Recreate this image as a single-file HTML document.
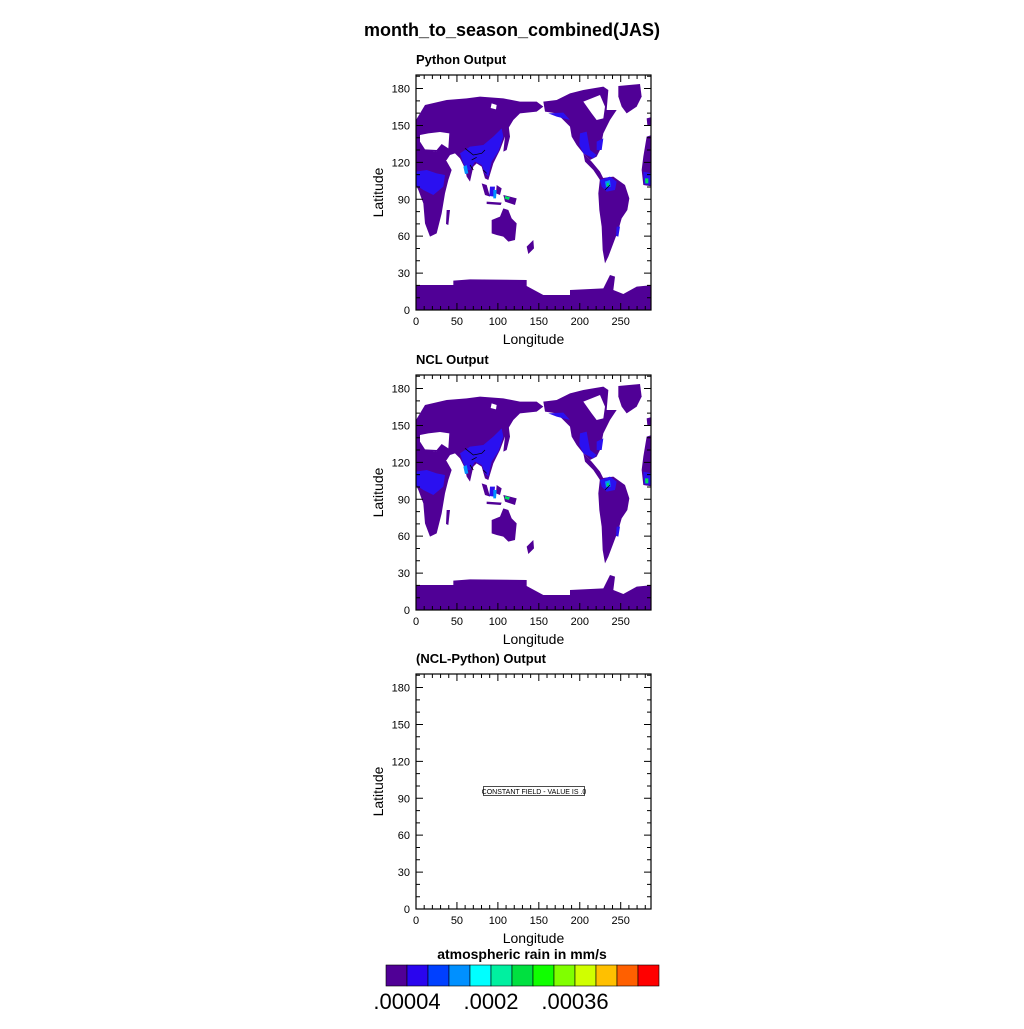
<!DOCTYPE html>
<html><head><meta charset="utf-8"><style>
body{margin:0;background:#fff;width:1024px;height:1024px;overflow:hidden;font-family:"Liberation Sans",sans-serif}
svg text{font-family:"Liberation Sans",sans-serif}
</style></head><body>
<svg id="fig" width="1024" height="1024" viewBox="0 0 1024 1024" xmlns="http://www.w3.org/2000/svg">
<defs>
<clipPath id="pc"><rect x="0" y="0" width="235" height="235"/></clipPath>
<g id="mapshapes">
 <g transform="translate(-46,-5) scale(0.33333)">
  <g fill="#500096">
   <path d="M138,645 L250,645 L250,632 L300,628 L470,630 L470,648 L520,675 L600,675 L600,660 L700,655 L720,615 L735,620 L730,660 L760,672 L800,650 L850,645 L850,725 L130,725 Z"/>
   <path d="M138,150 L165,105 L230,90 L290,85 L330,80 L400,85 L450,95 L500,95 L520,110 L500,125 L450,130 L430,150 L415,175 L405,200 L390,240 L380,260 L370,280 L355,330 L345,325 L335,290 L320,280 L310,290 L300,335 L290,320 L285,295 L270,265 L255,250 L240,255 L230,270 L215,275 L205,268 L200,245 L138,238 Z"/>
   <path d="M138,235 L200,245 L225,265 L245,300 L235,330 L225,370 L215,430 L200,490 L180,500 L165,460 L160,400 L145,360 L138,345 Z"/>
   <path d="M365,450 L390,440 L400,415 L415,420 L425,445 L440,460 L435,510 L415,515 L400,500 L380,495 L365,490 Z"/>
   <path d="M520,95 L560,90 L600,70 L640,60 L700,50 L715,60 L710,120 L740,120 L720,150 L700,190 L690,240 L680,260 L660,270 L640,250 L620,225 L605,200 L600,170 L580,150 L560,130 L525,125 Z"/>
   <path d="M745,48 L810,42 L815,80 L800,110 L770,130 L755,110 L745,80 Z"/>
   <path d="M640,250 L665,275 L690,305 L700,325 L690,330 L670,300 L645,275 Z"/>
   <path d="M690,325 L730,320 L765,345 L778,385 L772,420 L755,445 L745,480 L730,520 L715,560 L705,580 L698,540 L695,470 L688,420 L685,370 Z"/>
   <path d="M830,200 L845,195 L850,195 L850,350 L820,345 L815,300 L820,260 Z"/>
   <path d="M830,145 L850,140 L850,165 L832,165 Z"/>
   <path d="M400,165 L415,160 L420,200 L410,240 L400,245 L405,200 Z"/>
   <path d="M335,340 L350,345 L360,380 L345,375 Z M380,345 L395,355 L390,375 L378,370 Z M400,375 L440,385 L435,405 L405,395 Z M350,395 L395,398 L392,405 L350,402 Z M470,530 L490,510 L492,535 L475,552 Z M230,420 L240,420 L235,465 L228,462 Z"/>
  </g>
  <g fill="#fff">
   <path d="M150,195 L175,190 L210,186 L238,190 L235,235 L215,222 L200,240 L165,238 L150,215 Z"/>
   <path d="M365,100 L380,105 L378,118 L362,114 Z M640,95 L690,75 L705,110 L700,145 L680,150 L665,130 Z"/>
  </g>
  <g fill="#2a10f0">
   <path d="M138,305 L170,300 L200,310 L225,315 L220,350 L190,375 L160,360 L138,345 Z"/>
   <path d="M270,250 L300,230 L340,225 L370,200 L395,175 L400,200 L385,245 L365,275 L355,320 L345,310 L335,285 L315,275 L300,300 L290,300 L280,280 Z"/>
   <path d="M690,330 L720,320 L740,335 L735,360 L710,365 L695,350 Z"/>
   <path d="M820,305 L845,310 L845,345 L822,342 Z"/>
   <path d="M630,190 L650,185 L660,240 L680,255 L670,265 L640,250 L628,225 Z"/>
   <path d="M535,130 L580,128 L600,150 L560,140 Z M680,215 L700,205 L695,240 L680,240 Z M360,350 L375,350 L372,380 L358,378 Z M740,470 L750,470 L745,500 L738,498 Z"/>
  </g>
  <g fill="#0090ff">
   <path d="M280,290 L290,285 L295,310 L285,312 Z M370,360 L380,360 L378,385 L370,385 Z M705,335 L720,330 L722,350 L708,352 Z"/>
  </g>
  <g fill="#00e060">
   <path d="M405,378 L420,382 L416,390 L404,386 Z M710,340 L716,338 L716,348 L710,348 Z M825,325 L835,325 L835,340 L826,340 Z"/>
  </g>
  <g fill="none" stroke="#000" stroke-width="2.2">
   <path d="M285,235 L310,255 L335,250 L345,240 M305,270 L320,262 M300,285 L310,300 M705,360 L720,345 M340,300 L350,310"/>
  </g>
 </g>
</g>
</defs>
<text x="512" y="36" font-size="18" font-weight="bold" text-anchor="middle">month_to_season_combined(JAS)</text>
<g id="panels"></g>
<text x="522" y="959" font-size="14" font-weight="bold" text-anchor="middle">atmospheric rain in mm/s</text>
<g id="cbar"></g>
</svg>
<script>
const xTicks=[0,50,100,150,200,250];
const yTicks=[0,30,60,90,120,150,180];
const xMax=287, yMax=191;
const panelTitles=["Python Output","NCL Output","(NCL-Python) Output"];
const panelTops=[75,375,674];
const cbColors=["#500096","#2a05ee","#0040ff","#0090ff","#00ffff","#00f0a0","#00e040","#10ff00","#80ff00","#d0ff00","#ffc000","#ff6000","#ff0000"];
const cbLevels=[0.00004,0.00008,0.00012,0.00016,0.0002,0.00024,0.00028,0.00032,0.00036,0.0004,0.00044,0.00048];
const cbLabels=[".00004",".0002",".00036"];
const cbLabelLevels=[0.00004,0.0002,0.00036];
const NS="http://www.w3.org/2000/svg";
function mk(t,a,p){const e=document.createElementNS(NS,t);for(const k in a)e.setAttribute(k,a[k]);if(p)p.appendChild(e);return e;}
const L=416,W=235,H=235;
const panels=document.getElementById('panels');
panelTops.forEach((T,i)=>{
 const g=mk('g',{transform:`translate(${L},${T})`},panels);
 
 
 const sx=v=>v/xMax*W, sy=v=>H-v/yMax*H;
 if(i<2){const m=mk('g',{'clip-path':'url(#pc)'},g);
  
  
  mk('use',{href:'#mapshapes'},m);}
 else{
  const b=mk('rect',{x:67.5,y:112.5,width:101,height:9,fill:'#fff',stroke:'#000','stroke-width':0.7},g);
  
  
  const t=mk('text',{x:118,y:120,'font-size':7,'text-anchor':'middle'},g);t.textContent='CONSTANT FIELD - VALUE IS .0';
  
  
 }
 const fr=mk('rect',{x:0,y:0,width:W,height:H,fill:'none',stroke:'#000','stroke-width':1.2},g);
 
 
 let d='';
 for(let v=0;v<=xMax;v+=10){const x=sx(v),len=v%50==0?7:4;d+=`M${x},${H}v${-len}M${x},0v${len}`;}
 for(let v=0;v<=yMax;v+=10){const y=sy(v),len=v%30==0?7:4;d+=`M0,${y}h${len}M${W},${y}h${-len}`;}
 const tk=mk('path',{d:d,stroke:'#000','stroke-width':1,fill:'none'},g);
 
 
 xTicks.forEach(v=>{const t=mk('text',{x:sx(v),y:H+15,'font-size':11,'text-anchor':'middle'},g);t.textContent=v;
  
  });
 yTicks.forEach(v=>{const t=mk('text',{x:-6,y:sy(v)+4,'font-size':11,'text-anchor':'end'},g);t.textContent=v;
  
  });
 const xl=mk('text',{x:W/2,y:H+34,'font-size':14,'text-anchor':'middle'},g);xl.textContent='Longitude';
 
 
 const yl=mk('text',{x:0,y:0,'font-size':14,'text-anchor':'middle',transform:`translate(-33,${H/2}) rotate(-90)`},g);yl.textContent='Latitude';
 
 
 const pt=mk('text',{x:0,y:-11,'font-size':13,'font-weight':'bold'},g);pt.textContent=panelTitles[i];
 
 
});
const cb=document.getElementById('cbar');
const cbX=386,cbW=21,cbY=965,cbH=21;
const lvlX=v=>cbX+cbW*(1+(v-cbLevels[0])/(cbLevels[1]-cbLevels[0]));
cbColors.forEach((c,k)=>{const r=mk('rect',{x:cbX+k*cbW,y:cbY,width:cbW,height:cbH,fill:c,stroke:'#000','stroke-width':0.6},cb);
 
 });
cbLabels.forEach((s,k)=>{const t=mk('text',{x:lvlX(cbLabelLevels[k]),y:1009,'font-size':22,'text-anchor':'middle'},cb);t.textContent=s;
 
 });
</script>
</body></html>
